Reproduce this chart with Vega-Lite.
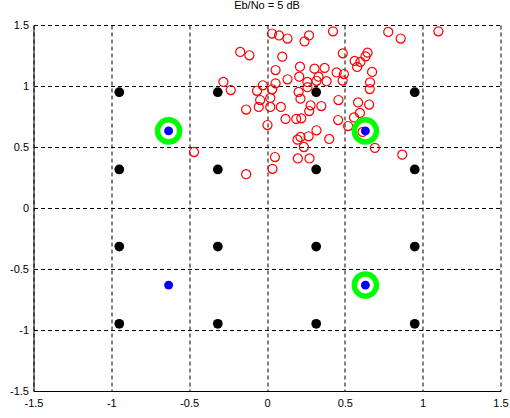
{
  "$schema": "https://vega.github.io/schema/vega-lite/v6.json",
  "autosize": "none",
  "width": 467,
  "height": 366,
  "padding": {"left": 33.5, "top": 25, "right": 9.5, "bottom": 27},
  "background": "white",
  "title": {"text": "Eb/No = 5 dB", "fontSize": 11, "fontWeight": "normal", "font": "Liberation Sans", "color": "black", "offset": 8},
  "config": {
    "view": {"stroke": null},
    "axis": {
      "grid": true, "gridColor": "black", "gridDash": [4, 3], "gridOpacity": 1, "gridWidth": 1,
      "domainColor": "black", "domainWidth": 1,
      "ticks": false,
      "labelFont": "Liberation Sans", "labelFontSize": 11, "labelColor": "black",
      "labelExpr": "toString(datum.value)",
      "title": null
    }
  },
  "datasets": {
    "ref": [
      {"x": -0.949, "y": 0.949}, {"x": -0.316, "y": 0.949}, {"x": 0.316, "y": 0.949}, {"x": 0.949, "y": 0.949},
      {"x": -0.949, "y": 0.316}, {"x": -0.316, "y": 0.316}, {"x": 0.316, "y": 0.316}, {"x": 0.949, "y": 0.316},
      {"x": -0.949, "y": -0.316}, {"x": -0.316, "y": -0.316}, {"x": 0.316, "y": -0.316}, {"x": 0.949, "y": -0.316},
      {"x": -0.949, "y": -0.949}, {"x": -0.316, "y": -0.949}, {"x": 0.316, "y": -0.949}, {"x": 0.949, "y": -0.949}
    ],
    "rx": [
      {"x": 0.032, "y": 1.430}, {"x": 0.077, "y": 1.414}, {"x": 0.132, "y": 1.389}, {"x": 0.270, "y": 1.414},
      {"x": 0.241, "y": 1.365}, {"x": 0.424, "y": 1.448}, {"x": 0.779, "y": 1.443}, {"x": 0.859, "y": 1.389},
      {"x": 1.101, "y": 1.448}, {"x": -0.172, "y": 1.279}, {"x": -0.113, "y": 1.252}, {"x": 0.098, "y": 1.240},
      {"x": 0.055, "y": 1.131}, {"x": 0.132, "y": 1.055}, {"x": 0.487, "y": 1.268}, {"x": 0.646, "y": 1.273},
      {"x": 0.633, "y": 1.243}, {"x": 0.563, "y": 1.205}, {"x": 0.600, "y": 1.197}, {"x": 0.579, "y": 1.156},
      {"x": 0.212, "y": 1.158}, {"x": 0.305, "y": 1.142}, {"x": 0.370, "y": 1.148}, {"x": 0.447, "y": 1.111},
      {"x": 0.494, "y": 1.098}, {"x": 0.675, "y": 1.115}, {"x": 0.207, "y": 1.076}, {"x": 0.259, "y": 1.033},
      {"x": 0.331, "y": 1.076}, {"x": 0.318, "y": 1.043}, {"x": 0.383, "y": 1.039}, {"x": 0.486, "y": 1.045},
      {"x": 0.662, "y": 1.030}, {"x": 0.660, "y": 0.975}, {"x": 0.203, "y": 0.951}, {"x": -0.280, "y": 1.033},
      {"x": -0.233, "y": 0.967}, {"x": -0.064, "y": 0.961}, {"x": -0.027, "y": 1.006}, {"x": 0.055, "y": 1.022},
      {"x": 0.033, "y": 0.973}, {"x": -0.044, "y": 0.885}, {"x": 0.021, "y": 0.902}, {"x": -0.053, "y": 0.828},
      {"x": -0.134, "y": 0.807}, {"x": 0.021, "y": 0.828}, {"x": 0.089, "y": 0.828}, {"x": 0.215, "y": 0.896},
      {"x": 0.280, "y": 0.842}, {"x": 0.349, "y": 0.836}, {"x": 0.459, "y": 0.885}, {"x": 0.585, "y": 0.865},
      {"x": 0.656, "y": 0.848}, {"x": 0.119, "y": 0.730}, {"x": 0.188, "y": 0.730}, {"x": 0.003, "y": 0.680},
      {"x": 0.196, "y": 0.560}, {"x": 0.220, "y": 0.735}, {"x": 0.271, "y": 0.795}, {"x": 0.457, "y": 0.721},
      {"x": 0.559, "y": 0.742}, {"x": 0.597, "y": 0.779}, {"x": 0.318, "y": 0.637}, {"x": 0.267, "y": 0.588},
      {"x": 0.215, "y": 0.582}, {"x": 0.400, "y": 0.566}, {"x": 0.237, "y": 0.500}, {"x": 0.521, "y": 0.672},
      {"x": 0.614, "y": 0.623}, {"x": 0.693, "y": 0.493}, {"x": 0.869, "y": 0.437}, {"x": 0.198, "y": 0.406},
      {"x": 0.273, "y": 0.406}, {"x": 0.051, "y": 0.418}, {"x": 0.035, "y": 0.321}, {"x": -0.134, "y": 0.277},
      {"x": -0.469, "y": 0.459}, {"x": 0.260, "y": 0.990}
    ],
    "ring": [
      {"x": -0.632, "y": 0.632}, {"x": 0.632, "y": 0.632}, {"x": 0.632, "y": -0.632}
    ],
    "blue": [
      {"x": -0.632, "y": 0.632}, {"x": 0.632, "y": 0.632}, {"x": -0.632, "y": -0.632}, {"x": 0.632, "y": -0.632}
    ]
  },
  "encoding": {
    "x": {"field": "x", "type": "quantitative", "scale": {"domain": [-1.5, 1.5], "nice": false, "zero": false},
          "axis": {"values": [-1.5, -1, -0.5, 0, 0.5, 1, 1.5], "labelPadding": 6, "labelFlush": false}},
    "y": {"field": "y", "type": "quantitative", "scale": {"domain": [-1.5, 1.5], "nice": false, "zero": false},
          "axis": {"values": [-1.5, -1, -0.5, 0, 0.5, 1, 1.5], "labelPadding": 5, "labelFlush": false}}
  },
  "layer": [
    {"data": {"name": "ref"}, "mark": {"type": "circle", "color": "black", "opacity": 1, "size": 95}},
    {"data": {"name": "rx"}, "mark": {"type": "point", "shape": "circle", "filled": false, "stroke": "#ff0000", "strokeWidth": 1.2, "opacity": 1, "size": 82}},
    {"data": {"name": "ring"}, "mark": {"type": "point", "shape": "circle", "filled": false, "stroke": "#00ff00", "strokeWidth": 5.5, "opacity": 1, "size": 490}},
    {"data": {"name": "blue"}, "mark": {"type": "circle", "color": "#0000ff", "opacity": 1, "size": 80}}
  ]
}
